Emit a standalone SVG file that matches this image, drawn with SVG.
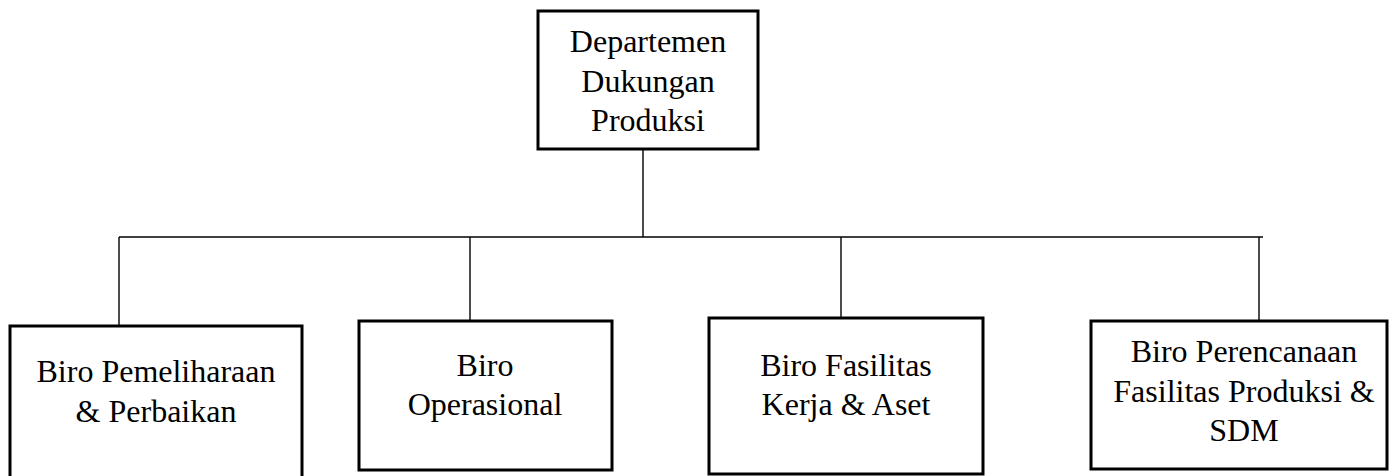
<svg xmlns="http://www.w3.org/2000/svg" width="1389" height="476" viewBox="0 0 1389 476">
  <style>
    .box { fill: #ffffff; stroke: #000000; stroke-width: 3; }
    .wire { fill: none; stroke: #000000; stroke-width: 1.4; }
    .label { font-family: 'Liberation Serif', 'Times New Roman', serif; font-size: 32px; fill: #000000; text-anchor: middle; }
  </style>

  <!-- connectors: trunk from department down to the branch bar, then drops to each bureau -->
  <g id="connectors">
    <line class="wire" x1="643" y1="149" x2="643" y2="237"/>
    <line class="wire" x1="119" y1="237" x2="1263" y2="237"/>
    <line class="wire" x1="119" y1="237" x2="119" y2="326"/>
    <line class="wire" x1="470" y1="237" x2="470" y2="321"/>
    <line class="wire" x1="841" y1="237" x2="841" y2="318"/>
    <line class="wire" x1="1259" y1="237" x2="1259" y2="321"/>
  </g>

  <g id="departemen-dukungan-produksi" font-family="Liberation Serif, serif">
    <rect class="box" x="538" y="11" width="220" height="138"/>
    <text class="label" x="648" y="52">Departemen</text>
    <text class="label" x="648" y="92">Dukungan</text>
    <text class="label" x="648" y="131">Produksi</text>
  </g>

  <g id="biro-pemeliharaan" font-family="Liberation Serif, serif">
    <rect class="box" x="10" y="326" width="292" height="160"/>
    <text class="label" x="156" y="382">Biro Pemeliharaan</text>
    <text class="label" x="156" y="422">&amp; Perbaikan</text>
  </g>

  <g id="biro-operasional" font-family="Liberation Serif, serif">
    <rect class="box" x="359" y="321" width="253" height="149"/>
    <text class="label" x="485" y="376">Biro</text>
    <text class="label" x="485" y="415">Operasional</text>
  </g>

  <g id="biro-fasilitas-kerja" font-family="Liberation Serif, serif">
    <rect class="box" x="709" y="318" width="274" height="156"/>
    <text class="label" x="846" y="376">Biro Fasilitas</text>
    <text class="label" x="846" y="415">Kerja &amp; Aset</text>
  </g>

  <g id="biro-perencanaan" font-family="Liberation Serif, serif">
    <rect class="box" x="1091" y="321" width="296" height="148"/>
    <text class="label" x="1244" y="362">Biro Perencanaan</text>
    <text class="label" x="1244" y="402">Fasilitas Produksi &amp;</text>
    <text class="label" x="1244" y="441">SDM</text>
  </g>
</svg>
